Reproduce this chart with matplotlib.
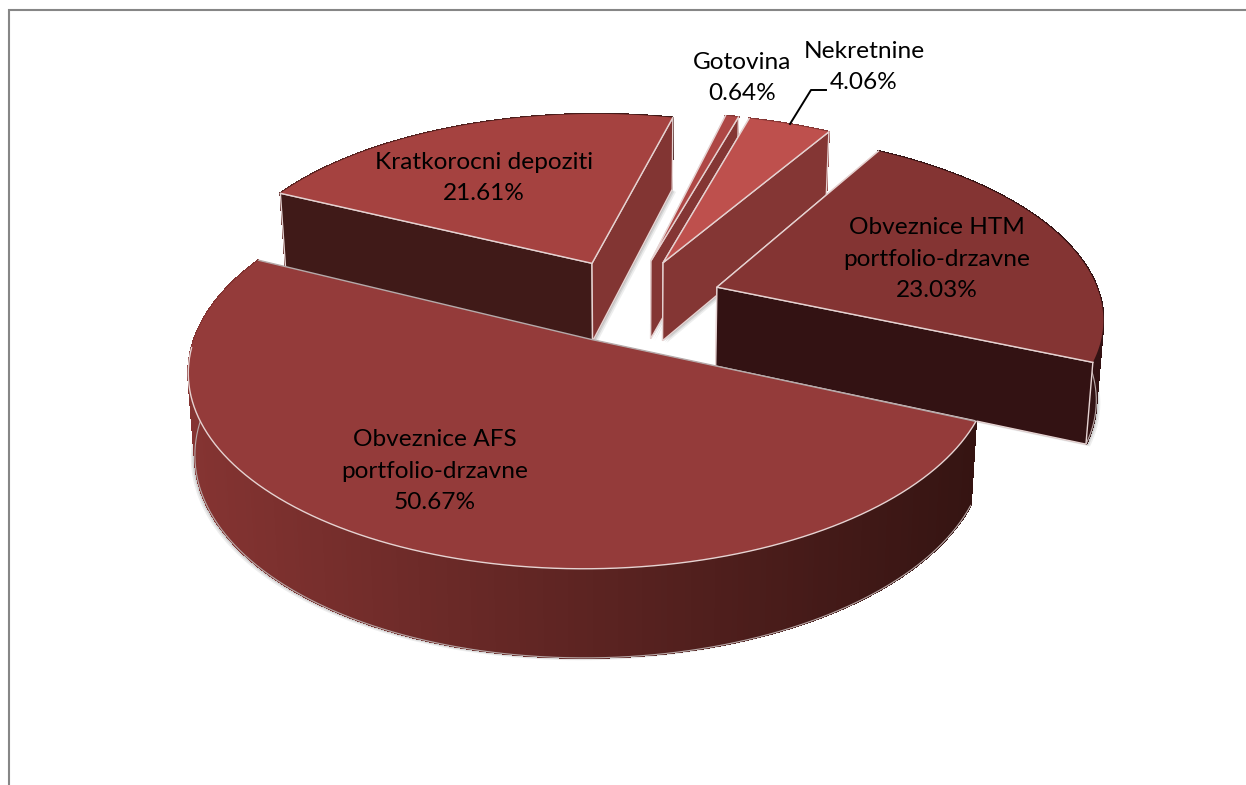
import numpy as np
import matplotlib
matplotlib.use("Agg")
import matplotlib.pyplot as plt
from matplotlib.collections import PolyCollection
from matplotlib.colors import to_rgb

# Data, in drawing order of the circle (clockwise from the first slice)
categories = ["Obveznice AFS\nportfolio-drzavne", "Kratkorocni depoziti", "Gotovina",
              "Nekretnine", "Obveznice HTM\nportfolio-drzavne"]
shares = [50.67, 21.61, 0.64, 4.06, 23.03]
share_labels = ["50.67%", "21.61%", "0.64%", "4.06%", "23.03%"]

# Styles
top_colors = ["#943B3A", "#A54240", "#AE4745", "#BE504D", "#843433"]
start_face = [None, "#401A18", "#843634", "#843634", "#843634"]
end_face = [None, "#823533", "#843634", "#843634", "#331213"]
wall_left = ["#853432", "#5A2422", "#843634", "#843634", "#331213"]
wall_right = ["#351412", "#401A18", "#843634", "#843634", "#331213"]
edge = "#E6D3D2"
label_xy = [(435, 471), (484, 178), (742, 78), (864, 67), (937, 259)]
draw_order = [1, 2, 3, 4, 0]
slice_dx = [0, 0, 0, 0, 4]          # small screen nudges per slice
rim_scale = [0.99, 0.985, 1.0, 1.0, 0.99]

W, H = 1246, 785
GX, GY = 629, 300      # pie axis on screen
R, SQ, K, KD = 388, 0.469, 0.15, 0.09   # radius, squash, perspective, perspective of the depth
LEAN = 0.015           # verticals converge towards the axis
EXPLODE = 0.23
DEPTH = 79.4
START = 113.4          # degrees clockwise from the back of the pie


def project(u, v, drop=0.0):
    x = GX + R * u / (1 - K * v)
    return x - drop * LEAN * (x - GX), GY + R * SQ * v / (1 - K * v) + drop * DEPTH / (1 - KD * v)


def lerp(c1, c2, t):
    a, b = np.array(to_rgb(c1)), np.array(to_rgb(c2))
    return tuple(a + (b - a) * t)


fig = plt.figure(figsize=(W / 100, H / 100), dpi=100, facecolor="white")
ax = fig.add_axes([0, 0, 1, 1])
ax.set_xlim(0, W)
ax.set_ylim(H, 0)
ax.axis("off")

ax.plot([8.5, 8.5, W], [H, 9.5, 9.5], color="#868686", lw=1.5, solid_joinstyle="miter")

spans = np.array(shares) / sum(shares) * 360
starts = START + np.concatenate(([0], np.cumsum(spans)[:-1]))

for i in draw_order:
    a0, a1 = np.radians(starts[i]), np.radians(starts[i] + spans[i])
    mid = (a0 + a1) / 2
    cu, cv = EXPLODE * np.sin(mid), -EXPLODE * np.cos(mid)
    t = np.linspace(a0, a1, 240)
    u, v = cu + rim_scale[i] * np.sin(t), cv - np.cos(t)
    xt, yt = project(u, v)
    xb, yb = project(u, v, 1.0)
    ax_, ay_ = project(cu, cv)
    bx_, by_ = project(cu, cv, 1.0)
    xt, xb, ax_, bx_ = xt + slice_dx[i], xb + slice_dx[i], ax_ + slice_dx[i], bx_ + slice_dx[i]
    z = 2 + draw_order.index(i) * 10

    # soft shadow of the lower outline
    sx = np.concatenate(([bx_], xb))
    sy = np.concatenate(([by_], yb))
    for off, al in ((4, 0.10), (2.5, 0.15), (1.2, 0.2)):
        ax.fill(sx - off if i == 0 else sx + off, sy + off * 0.6, color="#555555",
                alpha=al, lw=0, zorder=z - 1)

    # wall around the rim
    quads, cols = [], []
    xmin, xmax = xt.min(), xt.max()
    for j in range(len(t) - 1):
        quads.append([(xt[j], yt[j]), (xt[j + 1], yt[j + 1]), (xb[j + 1], yb[j + 1]), (xb[j], yb[j])])
        cols.append(lerp(wall_left[i], wall_right[i], (xt[j] - xmin) / max(xmax - xmin, 1)))
    ax.add_collection(PolyCollection(quads, facecolors=cols, edgecolors=cols, linewidths=0.8,
                                     antialiaseds=False, zorder=z))
    ax.plot(xb, yb, color="#B9A9A8", lw=0.8, zorder=z)

    # radial cut faces (the whole-circle half has none in view)
    for idx, col in ((0, start_face[i]), (-1, end_face[i])):
        if col is None:
            continue
        px = [ax_, xt[idx], xb[idx], bx_]
        py = [ay_, yt[idx], yb[idx], by_]
        ax.fill(px, py, facecolor=col, edgecolor=edge, lw=1.0,
                zorder=z + 1 if idx == -1 or i == 1 else z + 0.5)

    # top surface
    ax.fill(np.r_[ax_, xt], np.r_[ay_, yt], facecolor=top_colors[i], edgecolor="none", zorder=z + 2)
    if i == 0:
        ax.plot([xt[-1], ax_, xt[0]], [yt[-1], ay_, yt[0]], color="#B5AAAA", lw=1.0, zorder=z + 3)
        mask = np.degrees(t) % 360 < 268
        ax.plot(xt[mask], yt[mask], color=edge, lw=1.0, zorder=z + 3)
    else:
        ax.plot([xt[-1], ax_, xt[0]], [yt[-1], ay_, yt[0]], color=edge, lw=1.0, zorder=z + 3)

for i in [0, 1, 2, 3, 4]:
    ax.text(label_xy[i][0], label_xy[i][1], categories[i] + "\n" + share_labels[i],
            ha="center", va="center", fontsize=17.6, family=["Lato", "DejaVu Sans"],
            color="black", linespacing=1.62, zorder=100)

ax.plot([790, 811, 826], [124, 90, 90], color="black", lw=1.4, zorder=100)

fig.savefig("out.png", dpi=100, facecolor="white")
